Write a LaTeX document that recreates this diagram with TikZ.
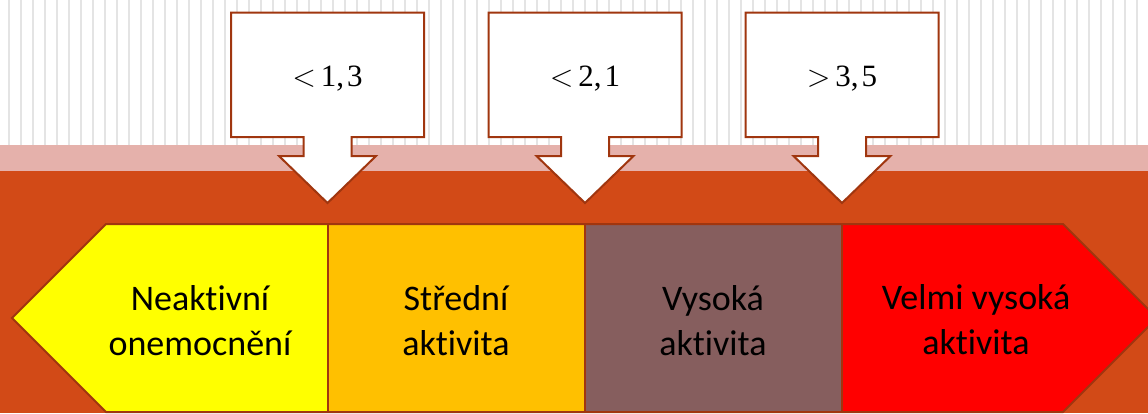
\documentclass[tikz,border=0pt]{standalone}
\usepackage{fix-cm}
\usepackage{fontspec}
\newfontfamily\labelfont[Ligatures=NoCommon]{Carlito}
\newfontfamily\valuefont{Liberation Serif}
\definecolor{stripegray}{HTML}{E4E4E4}
\definecolor{bandpink}{HTML}{E5B1AB}
\definecolor{rust}{HTML}{D24A17}
\definecolor{edge}{HTML}{A0360F}
\definecolor{inactive}{HTML}{FFFF00}
\definecolor{moderate}{HTML}{FFC000}
\definecolor{high}{HTML}{865E5E}
\definecolor{veryhigh}{HTML}{FF0000}
\newcommand\relsign[1]{$#1$\kern5pt}
\tikzset{
  calloutbox/.style={draw=edge, fill=white, line width=2pt, line join=miter},
  scaleedge/.style={draw=edge, line width=2pt, line join=miter},
  divider/.style={draw=edge, line width=2.6pt},
  zonetext/.style={font=\labelfont\fontsize{36}{45}\selectfont, align=center, anchor=base, inner sep=0pt},
  valuetext/.style={font=\valuefont\fontsize{31}{38}\selectfont, anchor=base, inner sep=0pt}
}
\begin{document}
\begin{tikzpicture}[x=1pt,y=-1pt]
\useasboundingbox (0,0) rectangle (1148,413);
\clip (0,0) rectangle (1148,413);
% striped backdrop, pink band and rust field
\fill[white] (0,0) rectangle (1148,146);
\foreach \i in {0,...,95}
  \fill[stripegray] ({8+12*\i},0) rectangle ({10+12*\i},146);
\fill[bandpink] (0,145) rectangle (1148,171);
\fill[rust] (0,171) rectangle (1148,413);

% activity scale: four coloured zones
\fill[inactive] (106,224) -- (328,224) -- (328,412) -- (106,412) -- (12,318) -- cycle;
\fill[moderate] (328,224) rectangle (585,412);
\fill[high] (585,224) rectangle (842,412);
\fill[veryhigh] (842,224) -- (1063,224) -- (1157,318) -- (1063,412) -- (842,412) -- cycle;
\draw[scaleedge] (106,224) -- (1063,224) -- (1157,318) -- (1063,412) -- (106,412) -- (12,318) -- cycle;
\draw[divider] (328,224) -- (328,412);
\draw[divider] (585,224) -- (585,412);
\draw[divider] (842,224) -- (842,412);

% zone names (anchor is the baseline of the last line)
\node[zonetext] (z1) at (200,355) {Neaktivní\\onemocnění};
\node[zonetext] (z2) at (456,355) {Střední\\aktivita};
\node[zonetext] (z3) at (713,355) {Vysoká\\aktivita};
\node[zonetext] (z4) at (976,354) {Velmi vysoká\\aktivita};

% threshold callouts pointing at the zone boundaries
\foreach \cx/\val/\nm in {327.5/{\relsign{<}1,\kern3pt3}/c1, 585/{\relsign{<}2,\kern3pt1}/c2, 842/{\relsign{>}3,\kern3pt5}/c3}{
  \draw[calloutbox] (\cx-96.5,12.5) -- (\cx+96.5,12.5) -- (\cx+96.5,137) -- (\cx+24,137)
    -- (\cx+24,156) -- (\cx+48.5,156) -- (\cx,203) -- (\cx-48.5,156) -- (\cx-24,156)
    -- (\cx-24,137) -- (\cx-96.5,137) -- cycle;
  \node[valuetext] (\nm) at (\cx,86) {\val};
}
\end{tikzpicture}
\end{document}
